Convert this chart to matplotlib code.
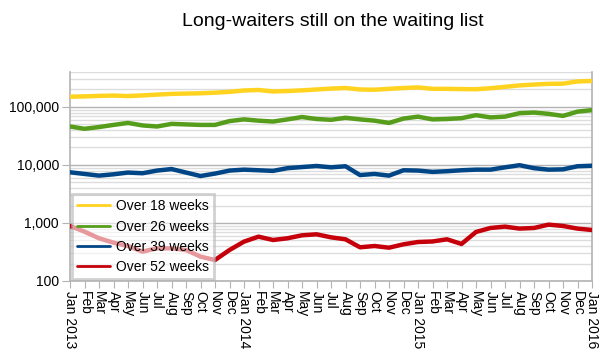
import matplotlib
matplotlib.use("Agg")
import matplotlib.pyplot as plt
from matplotlib.ticker import FixedLocator, FuncFormatter, NullFormatter
import numpy as np

plt.rcParams['font.family'] = ['Liberation Sans', 'DejaVu Sans']

months = ["Jan 2013", "Feb", "Mar", "Apr", "May", "Jun", "Jul", "Aug", "Sep", "Oct", "Nov", "Dec",
          "Jan 2014", "Feb", "Mar", "Apr", "May", "Jun", "Jul", "Aug", "Sep", "Oct", "Nov", "Dec",
          "Jan 2015", "Feb", "Mar", "Apr", "May", "Jun", "Jul", "Aug", "Sep", "Oct", "Nov", "Dec",
          "Jan 2016"]

over18 = [150000, 152000, 155000, 157000, 154000, 158000, 163000, 168000, 170000, 172000, 176000, 182000,
          192000, 196000, 185000, 188000, 193000, 200000, 207000, 212000, 200000, 198000, 205000, 212000,
          217000, 205000, 205000, 203000, 202000, 210000, 222000, 235000, 243000, 250000, 252000, 275000,
          280000]
over26 = [46000, 42000, 45000, 49000, 53000, 48000, 46000, 51000, 50000, 49000, 49000, 57000,
          61000, 58000, 56000, 61000, 67000, 62000, 60000, 65000, 61000, 58000, 53000, 63000,
          68000, 61000, 62000, 64000, 72000, 66000, 68000, 78000, 80000, 76000, 70000, 83000,
          88000]
over39 = [7480, 7000, 6550, 6900, 7400, 7200, 8000, 8500, 7400, 6450, 7100, 8000,
          8300, 8100, 7900, 8800, 9200, 9600, 9100, 9500, 6700, 7000, 6550, 8100,
          8000, 7600, 7800, 8100, 8300, 8300, 9100, 9900, 8800, 8300, 8400, 9500,
          9700]
over52 = [888, 709, 545, 458, 401, 321, 366, 366, 342, 263, 230, 342,
          477, 581, 509, 545, 613, 638, 566, 523, 381, 401, 375, 429,
          470, 480, 523, 435, 700, 820, 865, 800, 820, 936, 888, 800,
          757]

series_labels = ["Over 18 weeks", "Over 26 weeks", "Over 39 weeks", "Over 52 weeks"]
colors = ["#FFD320", "#579D1C", "#004586", "#C5000B"]
y_ticks = [100, 1000, 10000, 100000]

fig = plt.figure(figsize=(6.04, 3.52), dpi=100)
ax = fig.add_axes([70/604, 1-281/352, 522/604, 209/352])

x = np.arange(len(months))
for vals, lab, c in zip([over18, over26, over39, over52], series_labels, colors):
    ax.plot(x, vals, color=c, lw=3.2, label=lab, solid_joinstyle='round', solid_capstyle='round', zorder=3)

ax.set_yscale('log')
ax.set_ylim(100, 400000)
ax.set_xlim(0, len(months)-1)

ax.yaxis.set_major_locator(FixedLocator(y_ticks))
ax.yaxis.set_major_formatter(FuncFormatter(lambda v, p: f"{int(round(v)):,}"))
minor = [m*10**e for e in range(2, 6) for m in range(2, 10) if m*10**e <= 400000]
ax.yaxis.set_minor_locator(FixedLocator(minor))
ax.yaxis.set_minor_formatter(NullFormatter())

ax.set_xticks(x)
ax.set_xticklabels(months, rotation=-90, va='top', ha='center', fontsize=10)
ax.tick_params(axis='y', which='major', labelsize=10, length=6, color='#b3b3b3', pad=2)
ax.tick_params(axis='y', which='minor', length=0)
ax.tick_params(axis='x', length=5, color='#b3b3b3', pad=2)

ax.grid(True, which='major', axis='y', color='#b3b3b3', lw=1)
ax.grid(True, which='minor', axis='y', color='#dddddd', lw=1)
ax.set_axisbelow(True)

for s in ['left', 'bottom', 'right']:
    ax.spines[s].set_color('#b3b3b3')
    ax.spines[s].set_linewidth(1.2)
ax.spines['top'].set_visible(False)

leg = ax.legend(loc='lower left', bbox_to_anchor=(0.004, 0.01), borderaxespad=0,
                fontsize=10, handlelength=2.4, handletextpad=0.4, labelspacing=0.45,
                borderpad=0.35, fancybox=False, framealpha=0.6, edgecolor='#b3b3b3')
leg.get_frame().set_linewidth(2)
for h in leg.get_lines():
    h.set_linewidth(2)
leg.set_zorder(5)

fig.text(333/604, 1-22/352, "Long-waiters still on the waiting list", ha='center', va='center', fontsize=14)

fig.savefig("out.png", dpi=100)
